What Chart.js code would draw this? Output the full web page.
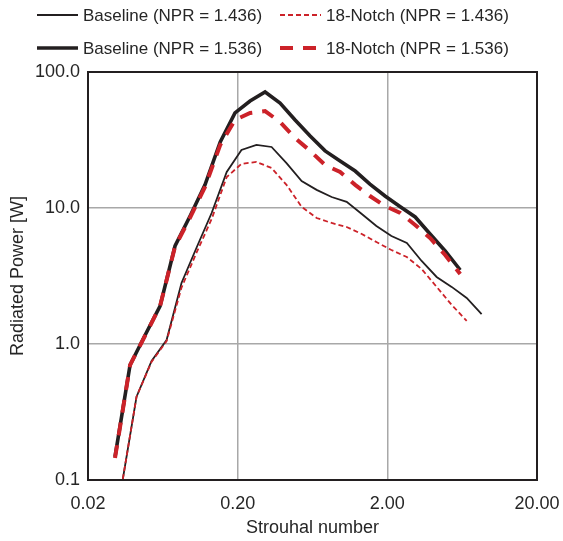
<!DOCTYPE html>
<html>
<head>
<meta charset="utf-8">
<script src="https://cdn.jsdelivr.net/npm/chart.js@4/dist/chart.umd.min.js"></script>
<style>
  html, body { margin: 0; padding: 0; background: #ffffff; }
  #wrap { width: 563px; height: 541px; position: relative; }
</style>
</head>
<body>
<div id="wrap"><canvas id="c" width="563" height="541"></canvas></div>
<script>
// ---- Data ----
// Strouhal numbers, NPR = 1.436 runs
const stNPR1436 = [0.0335, 0.0422, 0.0532, 0.0670, 0.0843, 0.106, 0.134, 0.169, 0.212, 0.267, 0.337, 0.424, 0.535, 0.674, 0.849, 1.07, 1.35, 1.69, 2.13, 2.70, 3.39, 4.27, 5.38, 6.78, 8.53];
// Strouhal numbers, NPR = 1.536 runs
const stNPR1536 = [0.0303, 0.0382, 0.0481, 0.0606, 0.0763, 0.0962, 0.121, 0.153, 0.192, 0.242, 0.305, 0.384, 0.484, 0.610, 0.768, 0.967, 1.22, 1.53, 1.93, 2.44, 3.07, 3.86, 4.87, 6.14];

const baseline1436 = [0.089, 0.41, 0.75, 1.07, 2.81, 5.08, 9.19, 18.4, 26.7, 29.1, 28.1, 21.4, 15.8, 13.6, 12.05, 11.1, 9.04, 7.38, 6.23, 5.53, 4.08, 3.11, 2.63, 2.18, 1.66];
const notch1436    = [0.089, 0.41, 0.74, 1.05, 2.6, 4.67, 8.3, 16.9, 21.1, 21.8, 19.7, 14.8, 10.2, 8.44, 7.76, 7.25, 6.44, 5.62, 4.91, 4.36, 3.56, 2.63, 1.94, 1.48];
const baseline1536 = [0.148, 0.70, 1.16, 1.90, 5.26, 8.73, 14.8, 30.6, 50.0, 61.2, 71.3, 59.2, 44.4, 33.8, 26.3, 22.2, 18.7, 15.0, 12.25, 10.2, 8.59, 6.44, 4.83, 3.50];
const notch1536    = [0.145, 0.70, 1.15, 1.90, 5.2, 8.5, 14.3, 29.1, 44.4, 50.0, 51.6, 42.9, 32.7, 26.3, 20.7, 18.4, 14.8, 12.25, 10.35, 9.19, 7.5, 6.02, 4.51, 3.27];

const seriesLabels = ['Baseline (NPR = 1.436)', '18-Notch (NPR = 1.436)', 'Baseline (NPR = 1.536)', '18-Notch (NPR = 1.536)'];

const xTickValues = [0.02, 0.2, 2, 20];
const xTickLabels = ['0.02', '0.20', '2.00', '20.00'];
const yTickValues = [0.1, 1, 10, 100];
const yTickLabels = ['0.1', '1.0', '10.0', '100.0'];

const xTitle = 'Strouhal number';
const yTitle = 'Radiated Power [W]';

// ---- Styling ----
const BLACK = '#231f20';
const RED = '#cc2229';
const TEXT = '#262626';
const GRID = '#a8a8a8';
const FONT = '"Liberation Sans", Arial, Helvetica, sans-serif';

function pts(xs, ys) {
  return ys.map((y, i) => ({ x: xs[i], y: y }));
}

const datasets = [
  { label: seriesLabels[0], data: pts(stNPR1436, baseline1436), borderColor: BLACK, borderWidth: 1.8, borderDash: [], order: 1 },
  { label: seriesLabels[1], data: pts(stNPR1436, notch1436), borderColor: RED, borderWidth: 1.8, borderDash: [5, 3], order: 0 },
  { label: seriesLabels[2], data: pts(stNPR1536, baseline1536), borderColor: BLACK, borderWidth: 3.6, borderDash: [], order: 1 },
  { label: seriesLabels[3], data: pts(stNPR1536, notch1536), borderColor: RED, borderWidth: 4, borderDash: [13, 10], order: 0 }
].map(d => Object.assign({ pointRadius: 0, pointHoverRadius: 0, fill: false, tension: 0, backgroundColor: d.borderColor }, d));

// Custom two-column legend (drawn as text on the canvas)
const legendPlugin = {
  id: 'twoColLegend',
  afterDraw(chart) {
    const ctx = chart.ctx;
    const colX = [37, 280];
    const rowY = [15, 48];
    chart.data.datasets.forEach((ds, i) => {
      const x = colX[i % 2];
      const y = rowY[Math.floor(i / 2)];
      ctx.save();
      ctx.strokeStyle = ds.borderColor;
      ctx.lineWidth = ds.borderWidth;
      ctx.setLineDash(ds.borderDash || []);
      ctx.beginPath();
      ctx.moveTo(x, y);
      ctx.lineTo(x + 41, y);
      ctx.stroke();
      ctx.setLineDash([]);
      ctx.fillStyle = TEXT;
      ctx.font = '17px ' + FONT;
      ctx.textBaseline = 'middle';
      ctx.textAlign = 'left';
      ctx.fillText(ds.label, x + 46, y + 1);
      ctx.restore();
    });
  }
};

// Plot-area frame
const framePlugin = {
  id: 'frame',
  afterDatasetsDraw(chart) {
    const a = chart.chartArea;
    const ctx = chart.ctx;
    ctx.save();
    ctx.strokeStyle = BLACK;
    ctx.lineWidth = 2;
    ctx.strokeRect(a.left, a.top, a.right - a.left, a.bottom - a.top);
    ctx.restore();
  }
};

new Chart(document.getElementById('c'), {
  type: 'line',
  data: { datasets: datasets },
  plugins: [legendPlugin, framePlugin],
  options: {
    responsive: false,
    animation: false,
    devicePixelRatio: 1,
    layout: { padding: { top: 72, right: 26, bottom: 0, left: 0 } },
    plugins: {
      legend: { display: false },
      tooltip: { enabled: false }
    },
    scales: {
      x: {
        type: 'logarithmic',
        min: 0.02,
        max: 20,
        afterBuildTicks: (s) => { s.ticks = xTickValues.map(v => ({ value: v })); },
        afterFit: (s) => { s.height = 61; s.paddingLeft = 0; s.paddingRight = 0; },
        ticks: {
          callback: (v, i) => xTickLabels[i],
          color: TEXT,
          font: { family: FONT, size: 18 },
          padding: 13,
          maxRotation: 0,
          autoSkip: false
        },
        grid: { color: GRID, lineWidth: 1.5, drawTicks: false },
        border: { display: false },
        title: { display: true, text: xTitle, color: TEXT, font: { family: FONT, size: 18 }, padding: { top: 0, bottom: 2 } }
      },
      y: {
        type: 'logarithmic',
        min: 0.1,
        max: 100,
        afterBuildTicks: (s) => { s.ticks = yTickValues.map(v => ({ value: v })); },
        afterFit: (s) => { s.width = 88; s.paddingTop = 0; s.paddingBottom = 0; },
        ticks: {
          callback: (v, i) => yTickLabels[i],
          color: TEXT,
          font: { family: FONT, size: 18 },
          padding: 8,
          autoSkip: false
        },
        grid: { color: GRID, lineWidth: 1.5, drawTicks: false },
        border: { display: false },
        title: { display: true, text: yTitle, color: TEXT, font: { family: FONT, size: 18 }, padding: { top: 7, bottom: 0 } }
      }
    }
  }
});
</script>
</body>
</html>
